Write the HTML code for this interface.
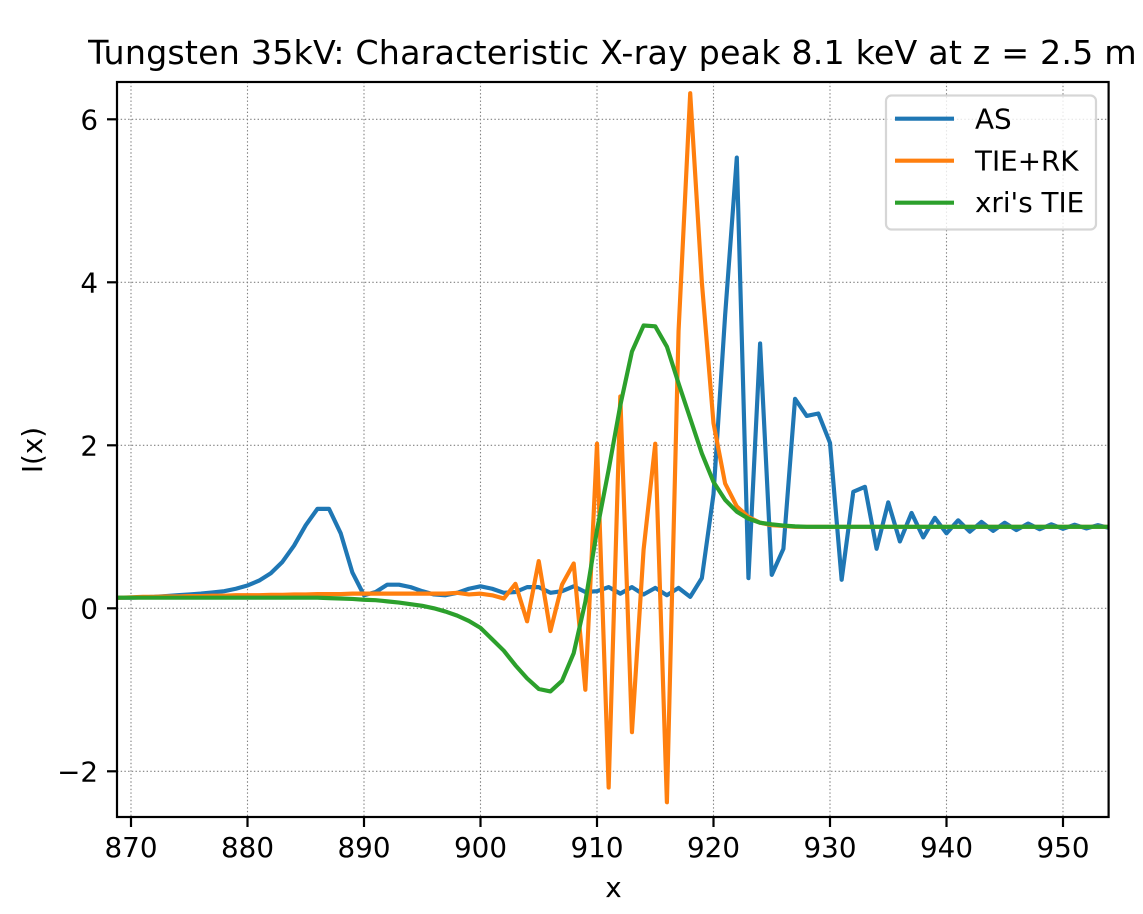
<!DOCTYPE html>
<html lang="en">
<head>
<meta charset="utf-8">
<title>Tungsten 35kV: Characteristic X-ray peak</title>
<style>
html,body{margin:0;padding:0;background:#fff;width:1143px;height:914px;overflow:hidden}
svg{display:block;font-family:"DejaVu Sans","Liberation Sans",sans-serif;fill:#000}
</style>
</head>
<body>
<svg id="chart" xmlns="http://www.w3.org/2000/svg" width="1143" height="914" viewBox="0 0 1143 914">
<defs><clipPath id="plot-clip"><rect x="117" y="82" width="991.6" height="735"/></clipPath></defs>
<rect x="0" y="0" width="1143" height="914" fill="#fff"/>
<g id="grid"></g>
<g id="series" clip-path="url(#plot-clip)"></g>
<g id="ticks"></g>
<rect x="117" y="82" width="991.6" height="735" fill="none" stroke="#000" stroke-width="2.2"/>
<text x="612.5" y="64" font-size="33.3" letter-spacing="0.17" text-anchor="middle">Tungsten 35kV: Characteristic X-ray peak 8.1 keV at z = 2.5 m</text>
<text x="613.5" y="897" font-size="27.78" text-anchor="middle">x</text>
<text x="0" y="0" font-size="27.78" text-anchor="middle" transform="translate(42 450) rotate(-90)">I(x)</text>
<g id="legend">
<rect x="886" y="95.5" width="210" height="134" rx="5.5" ry="5.5" fill="#fff" fill-opacity="0.8" stroke="#ccc" stroke-opacity="0.8" stroke-width="2.2"/>
<g>
<line x1="895" x2="954" y1="118.7" y2="118.7" stroke="#1f77b4" stroke-width="4.17"/>
<text x="975" y="128.5" font-size="27.78">AS</text>
</g>
<g>
<line x1="895" x2="954" y1="160.7" y2="160.7" stroke="#ff7f0e" stroke-width="4.17"/>
<text x="975" y="170.3" font-size="27.78">TIE+RK</text>
</g>
<g>
<line x1="895" x2="954" y1="202.7" y2="202.7" stroke="#2ca02c" stroke-width="4.17"/>
<text x="975" y="212" font-size="27.78">xri's TIE</text>
</g>
</g>
</svg>
<script>
const startX = 869;
const xTicks = [870, 880, 890, 900, 910, 920, 930, 940, 950];
const yTicks = [-2, 0, 2, 4, 6];
const yTickLabels = ["\u22122", "0", "2", "4", "6"];
const asValues = [0.13,0.13,0.135,0.14,0.15,0.16,0.17,0.18,0.195,0.21,0.24,0.28,0.34,0.43,0.57,0.77,1.02,1.22,1.22,0.92,0.44,0.16,0.2,0.29,0.29,0.26,0.21,0.17,0.16,0.19,0.24,0.27,0.24,0.19,0.2,0.26,0.26,0.19,0.21,0.27,0.2,0.21,0.26,0.18,0.26,0.17,0.25,0.16,0.25,0.14,0.37,1.4,3.6,5.53,0.37,3.25,0.41,0.73,2.57,2.36,2.39,2.03,0.35,1.43,1.49,0.73,1.3,0.82,1.17,0.87,1.11,0.92,1.08,0.94,1.06,0.95,1.05,0.96,1.04,0.97,1.03,0.975,1.025,0.98,1.02,0.985];
const tieRkValues = [0.13,0.135,0.14,0.14,0.145,0.145,0.15,0.15,0.155,0.155,0.16,0.16,0.16,0.165,0.165,0.17,0.17,0.175,0.175,0.175,0.18,0.18,0.18,0.18,0.18,0.18,0.18,0.18,0.18,0.19,0.17,0.18,0.16,0.12,0.3,-0.16,0.58,-0.28,0.29,0.55,-1.0,2.02,-2.2,2.6,-1.52,0.72,2.02,-2.38,3.4,6.32,4.0,2.27,1.53,1.25,1.12,1.05,1.02,1.01,1.0,1.0,1.0,1.0,1.0,1.0,1.0,1.0,1.0,1.0,1.0,1.0,1.0,1.0,1.0,1.0,1.0,1.0,1.0,1.0,1.0,1.0,1.0,1.0,1.0,1.0,1.0,1.0];
const xriTieValues = [0.13,0.13,0.13,0.13,0.13,0.13,0.13,0.13,0.13,0.13,0.13,0.13,0.13,0.13,0.13,0.13,0.13,0.13,0.125,0.12,0.115,0.105,0.1,0.085,0.07,0.05,0.03,0.0,-0.04,-0.09,-0.155,-0.24,-0.38,-0.52,-0.7,-0.86,-0.99,-1.02,-0.89,-0.55,0.08,0.96,1.7,2.49,3.15,3.47,3.46,3.21,2.76,2.33,1.9,1.55,1.33,1.185,1.1,1.05,1.03,1.015,1.005,1.0,1.0,1.0,1.0,1.0,1.0,1.0,1.0,1.0,1.0,1.0,1.0,1.0,1.0,1.0,1.0,1.0,1.0,1.0,1.0,1.0,1.0,1.0,1.0,1.0,1.0,1.0];

const NS = "http://www.w3.org/2000/svg";
function xAxis(v) { return 131 + (v - 870) * 11.65; }
function yAxis(v) { return 608.3 - v * 81.5; }

const gridG = document.getElementById("grid");
const ticksG = document.getElementById("ticks");
const seriesG = document.getElementById("series");

function addLine(parent, x1, y1, x2, y2, stroke, width, dash) {
  const l = document.createElementNS(NS, "line");
  l.setAttribute("x1", x1);
  l.setAttribute("y1", y1);
  l.setAttribute("x2", x2);
  l.setAttribute("y2", y2);
  l.setAttribute("stroke", stroke);
  l.setAttribute("stroke-width", width);
  if (dash) l.setAttribute("stroke-dasharray", dash);
  parent.appendChild(l);
  return l;
}
function addText(parent, x, y, str, anchor) {
  const t = document.createElementNS(NS, "text");
  t.setAttribute("x", x);
  t.setAttribute("y", y);
  t.setAttribute("font-size", "27.78");
  t.setAttribute("text-anchor", anchor);
  t.textContent = str;
  parent.appendChild(t);
  return t;
}

xTicks.forEach(function (v) {
  const x = xAxis(v);
  const g = addLine(gridG, x, 82, x, 817, "#808080", 1.1, "1.4 2.3");
  
  
  const m = addLine(ticksG, x, 817, x, 827, "#000", 2.2);
  
  
  const t = addText(ticksG, x, 857, String(v), "middle");
  
  
});

yTicks.forEach(function (v, i) {
  const y = yAxis(v);
  const g = addLine(gridG, 117, y, 1108.6, y, "#808080", 1.1, "1.4 2.3");
  
  
  const m = addLine(ticksG, 107, y, 117, y, "#000", 2.2);
  
  
  const t = addText(ticksG, 98, y + 10, yTickLabels[i], "end");
  
  
});

function buildPoints(values) {
  return values.map(function (v, i) {
    return xAxis(startX + i).toFixed(2) + "," + yAxis(v).toFixed(2);
  }).join(" ");
}
function addSeries(values, color) {
  const p = document.createElementNS(NS, "polyline");
  p.setAttribute("points", buildPoints(values));
  p.setAttribute("fill", "none");
  p.setAttribute("stroke", color);
  p.setAttribute("stroke-width", "4.17");
  p.setAttribute("stroke-linejoin", "round");
  p.setAttribute("stroke-linecap", "square");
  seriesG.appendChild(p);
  return p;
}
const asLine = addSeries(asValues, "#1f77b4");


const tieRkLine = addSeries(tieRkValues, "#ff7f0e");


const xriTieLine = addSeries(xriTieValues, "#2ca02c");


</script>
</body>
</html>
